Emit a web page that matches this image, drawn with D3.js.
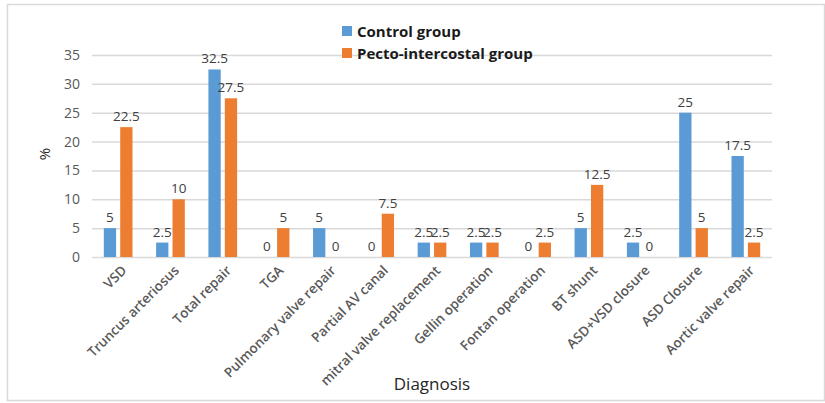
<!DOCTYPE html>
<html><head><meta charset="utf-8">
<script src="https://cdn.jsdelivr.net/npm/d3@7"></script>
<style>body{margin:0;background:#fff}svg{display:block}</style>
</head><body>
<script>
const categories = ["VSD","Truncus arteriosus","Total repair","TGA","Pulmonary valve repair","Partial AV canal","mitral valve replacement","Gellin operation","Fontan operation","BT shunt","ASD+VSD closure","ASD Closure","Aortic valve repair"];
const controlValues = [5,2.5,32.5,0,5,0,2.5,2.5,0,5,2.5,25,17.5];
const pectoValues = [22.5,10,27.5,5,0,7.5,2.5,2.5,2.5,12.5,0,5,2.5];
const seriesNames = ["Control group","Pecto-intercostal group"];
const yTicks = [0,5,10,15,20,25,30,35];

const W=825,H=403;
const colors=["#5B9BD5","#ED7D31"];
const font="'Open Sans', sans-serif";
const svg=d3.select("body").append("svg").attr("width",W).attr("height",H);
svg.append("rect").attr("x",7.5).attr("y",4.5).attr("width",W-8).attr("height",H-7).attr("fill","#fff").attr("stroke","#d9d9d9").attr("stroke-width",1.5);

const m={l:92,r:772,t:55,b:257};
const x=d3.scaleBand().domain(categories).range([m.l,m.r]).paddingInner(0).paddingOuter(0);
const x1=d3.scaleBand().domain([0,1]).range([0,x.bandwidth()]).paddingInner(0.25).paddingOuter(0.72);
const y=d3.scaleLinear().domain([0,35]).range([m.b,m.t]);

const yAxis=d3.axisLeft(y).tickValues(yTicks).tickSize(-(m.r-m.l)).tickPadding(12);
const gy=svg.append("g").attr("transform",`translate(${m.l},0)`).call(yAxis);
gy.select(".domain").remove();
gy.selectAll(".tick line").attr("stroke","#d9d9d9").attr("stroke-width",1.5);
gy.selectAll(".tick text").attr("fill","#595959").style("font-family",font).style("font-size","14px");

const series=[controlValues,pectoValues];
series.forEach((vals,si)=>{
  const g=svg.append("g");
  g.selectAll("rect").data(vals).join("rect")
    .attr("x",(d,i)=>x(categories[i])+x1(si))
    .attr("width",x1.bandwidth())
    .attr("y",d=>y(d)).attr("height",d=>y(0)-y(d))
    .attr("fill",colors[si]);
  g.selectAll("text").data(vals).join("text")
    .attr("x",(d,i)=>x(categories[i])+x1(si)+x1.bandwidth()/2)
    .attr("y",d=>y(d)-6)
    .attr("text-anchor","middle")
    .attr("fill","#404040")
    .style("font-family",font).style("font-size","13.5px")
    .text(d=>d);
});

const xAxis=d3.axisBottom(x).tickSize(0).tickPadding(0);
const gx=svg.append("g").attr("transform",`translate(0,${m.b})`).call(xAxis);
gx.select(".domain").remove();
gx.selectAll(".tick text")
  .attr("text-anchor","end")
  .attr("transform","translate(6,11) rotate(-45)")
  .attr("dy","0.35em")
  .attr("fill","#595959")
  .style("font-family",font).style("font-size","13.5px").style("font-weight","600");

svg.append("text").attr("x",432).attr("y",390).attr("text-anchor","middle")
  .attr("fill","#262626").style("font-family",font).style("font-size","17px").text("Diagnosis");
svg.append("text").attr("transform","translate(50,154) rotate(-90)").attr("text-anchor","middle")
  .attr("fill","#262626").style("font-family",font).style("font-size","15px").text("%");

const leg=svg.append("g");
seriesNames.forEach((n,i)=>{
  leg.append("rect").attr("x",342).attr("y",26+i*22).attr("width",10).attr("height",10).attr("fill",colors[i]);
  leg.append("text").attr("x",357).attr("y",36.5+i*22).attr("fill","#1a1a1a")
    .style("font-family",font).style("font-size","15px").style("font-weight","bold").text(n);
});
</script>
</body></html>
